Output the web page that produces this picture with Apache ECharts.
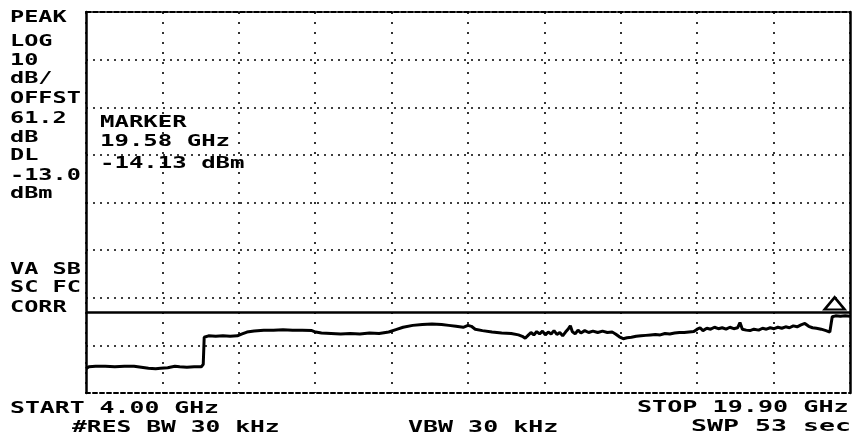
<!DOCTYPE html>
<html>
<head>
<meta charset="utf-8">
<script src="https://cdn.jsdelivr.net/npm/echarts@6/dist/echarts.min.js"></script>
<style>
html,body{margin:0;padding:0;background:#fff;}
#chart{width:858px;height:437px;}
</style>
</head>
<body>
<div id="chart"></div>
<script>
// Frequency axis (GHz) and level axis (dBm)
var startFreq = 4.00;
var stopFreq = 19.90;
var refLevel = 50;
var dbPerDiv = 10;
var displayLine = -13.0;
var markerFreq = 19.58;
var markerLevel = -14.13;

// Trace
var freq = [4.00,4.06,4.20,4.40,4.60,4.80,5.00,5.15,5.30,5.45,5.55,5.70,5.85,5.95,6.10,6.25,6.40,6.44,6.46,6.55,
  6.70,6.85,7.00,7.15,7.25,7.35,7.50,7.70,7.90,8.10,8.30,8.50,8.70,8.78,8.90,9.10,9.30,9.50,9.70,9.90,
  10.10,10.30,10.45,10.60,10.80,11.00,11.20,11.40,11.55,11.70,11.85,11.95,12.02,12.10,12.25,12.45,12.65,12.85,13.00,13.08,
  13.14,13.20,13.26,13.32,13.38,13.44,13.50,13.56,13.62,13.68,13.74,13.80,13.86,13.92,13.98,14.04,14.08,14.12,14.18,14.24,
  14.30,14.38,14.46,14.55,14.65,14.75,14.85,14.95,15.02,15.10,15.18,15.26,15.35,15.45,15.55,15.65,15.75,15.85,15.95,16.05,
  16.15,16.25,16.35,16.45,16.55,16.65,16.72,16.78,16.84,16.92,17.00,17.08,17.16,17.24,17.32,17.40,17.48,17.56,17.61,17.66,
  17.74,17.82,17.90,18.00,18.08,18.16,18.24,18.32,18.40,18.48,18.56,18.64,18.72,18.80,18.88,18.96,19.04,19.12,19.20,19.30,
  19.40,19.48,19.52,19.53,19.60,19.70,19.80,19.90];
var level = [-24.9,-24.5,-24.4,-24.4,-24.5,-24.4,-24.4,-24.6,-24.8,-24.9,-24.8,-24.7,-24.4,-24.5,-24.6,-24.5,-24.5,-24.0,-18.3,-18.0,
  -18.1,-18.0,-18.1,-18.0,-17.6,-17.2,-17.0,-16.8,-16.8,-16.7,-16.8,-16.8,-16.9,-17.2,-17.4,-17.5,-17.6,-17.5,-17.6,-17.4,
  -17.5,-17.2,-16.7,-16.2,-15.8,-15.6,-15.5,-15.6,-15.8,-16.0,-16.2,-15.8,-16.0,-16.6,-16.9,-17.2,-17.4,-17.5,-17.8,-18.1,
  -18.5,-17.9,-17.3,-17.8,-17.1,-17.6,-17.0,-17.8,-17.2,-17.6,-16.9,-17.7,-17.3,-18.0,-17.2,-16.5,-15.9,-17.1,-17.6,-16.8,
  -17.4,-16.9,-17.3,-17.0,-17.3,-17.0,-17.3,-17.2,-17.6,-18.2,-18.6,-18.4,-18.3,-18.1,-18.0,-17.9,-17.8,-17.7,-17.8,-17.5,
  -17.6,-17.4,-17.3,-17.3,-17.2,-17.1,-16.6,-16.3,-16.9,-16.4,-16.6,-16.2,-16.5,-16.3,-16.6,-16.2,-16.5,-16.3,-15.2,-16.6,
  -16.8,-16.9,-16.6,-16.8,-16.4,-16.6,-16.3,-16.5,-16.2,-16.4,-16.1,-16.3,-15.9,-16.1,-15.7,-15.4,-16.0,-16.3,-16.4,-16.6,
  -16.9,-17.2,-17.0,-14.0,-13.8,-13.9,-13.8,-13.9];

var leftLabels = ['PEAK','LOG','10','dB/','OFFST','61.2','dB','DL','-13.0','dBm'];
var leftLabelsLower = ['VA SB','SC FC','CORR'];
var markerLabels = ['MARKER','19.58 GHz','-14.13 dBm'];
var bottomLabels = ['START 4.00 GHz','#RES BW 30 kHz','VBW 30 kHz','STOP 19.90 GHz','SWP 53 sec'];

var chart = echarts.init(document.getElementById('chart'), null, {renderer:'canvas'});

var FONT = 'bold 16px "DejaVu Sans Mono", "Liberation Mono", monospace';
function txt(s, x, y, sx){
  return {type:'text', x:x, y:y, scaleX:sx || 1.5, silent:true,
    style:{text:s, font:FONT, fill:'#000', textAlign:'left', verticalAlign:'middle', textVerticalAlign:'middle'}};
}
var leftY = [18,42,61,79,99,119,138,156,176,194];
var lowerY = [270,288,308];
var graphics = [];
leftLabels.forEach(function(s,i){ graphics.push(txt(s, 10, leftY[i], 1.47)); });
leftLabelsLower.forEach(function(s,i){ graphics.push(txt(s, 10, lowerY[i], 1.47)); });
var mY = [123,142,164];
markerLabels.forEach(function(s,i){ graphics.push(txt(s, 100, mY[i], 1.5)); });
graphics.push(txt(bottomLabels[0], 10, 409, 1.55));
graphics.push(txt(bottomLabels[1], 72, 428, 1.54));
graphics.push(txt(bottomLabels[2], 408, 428, 1.56));
graphics.push(txt(bottomLabels[3], 637, 408, 1.57));
graphics.push(txt(bottomLabels[4], 691, 427, 1.66));

var divX = (stopFreq - startFreq) / 10;

var option = {
  backgroundColor:'#fff',
  animation:false,
  grid:{left:86, right:8, top:12, bottom:44},
  xAxis:[{
    type:'value', min:startFreq, max:stopFreq, interval:divX,
    axisLine:{show:true, onZero:false, lineStyle:{color:'#000', width:2, type:[4,3]}},
    axisTick:{show:false}, axisLabel:{show:false},
    splitLine:{show:true, lineStyle:{color:'#000', width:1.6, type:[2,8]}}
  },{
    type:'value', position:'top', min:startFreq, max:stopFreq, interval:divX,
    axisLine:{show:true, onZero:false, lineStyle:{color:'#000', width:2, type:[5,2]}},
    axisTick:{show:false}, axisLabel:{show:false}, splitLine:{show:false}
  }],
  yAxis:[{
    type:'value', min:refLevel - 8*dbPerDiv, max:refLevel, interval:dbPerDiv,
    axisLine:{show:true, onZero:false, lineStyle:{color:'#000', width:2.5}},
    axisTick:{show:false}, axisLabel:{show:false},
    splitLine:{show:true, lineStyle:{color:'#000', width:1.6, type:[2,5]}}
  },{
    type:'value', position:'right', min:refLevel - 8*dbPerDiv, max:refLevel, interval:dbPerDiv,
    axisLine:{show:true, onZero:false, lineStyle:{color:'#000', width:2.5}},
    axisTick:{show:false}, axisLabel:{show:false}, splitLine:{show:false}
  }],
  series:[{
    type:'line',
    xAxisIndex:0, yAxisIndex:0,
    data: freq.map(function(f,i){ return [f, level[i]]; }),
    showSymbol:false, symbol:'none',
    lineStyle:{color:'#000', width:3},
    markLine:{
      silent:true, symbol:['none','none'],
      lineStyle:{color:'#000', width:2.5, type:'solid'},
      label:{show:false},
      data:[{yAxis:displayLine}]
    },
    markPoint:{
      silent:true,
      symbol:'triangle', symbolSize:[20,12], symbolOffset:[0,-14],
      itemStyle:{color:'#fff', borderColor:'#000', borderWidth:2.5},
      label:{show:false},
      data:[{coord:[markerFreq, markerLevel]}]
    }
  }],
  graphic: graphics
};
chart.setOption(option);
</script>
</body>
</html>
